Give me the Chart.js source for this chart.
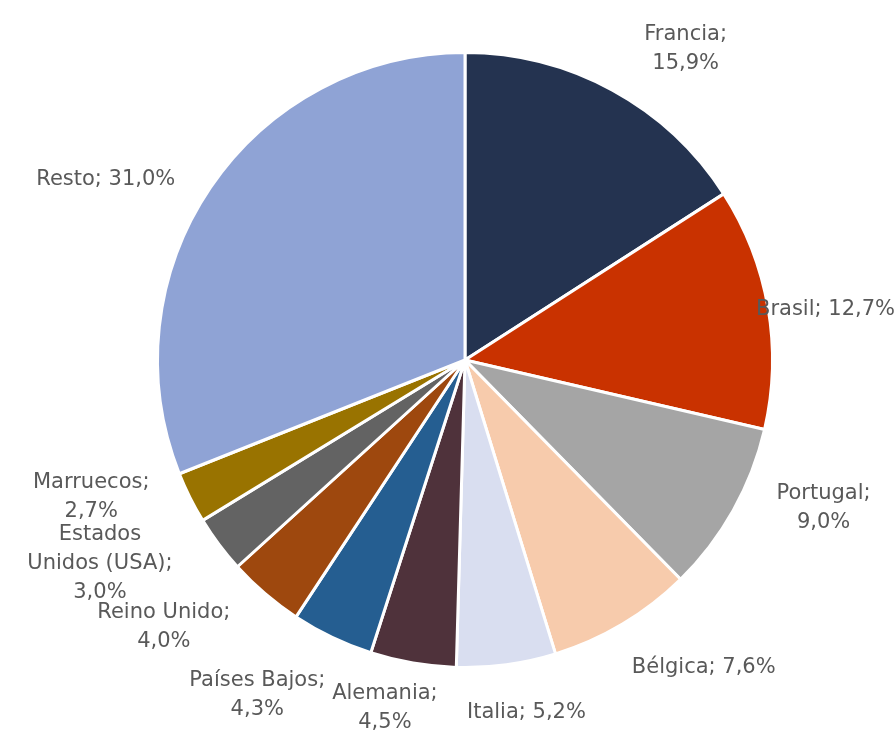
<!DOCTYPE html>
<html>
<head>
<meta charset="utf-8">
<script src="https://cdn.jsdelivr.net/npm/chart.js@4.4.1/dist/chart.umd.min.js"></script>
<style>
  html, body { margin: 0; padding: 0; background: #ffffff; }
  #wrap { position: relative; width: 896px; height: 738px; }
</style>
</head>
<body>
<div id="wrap"><canvas id="c"></canvas></div>
<script>
const categories = ["Francia", "Brasil", "Portugal", "Bélgica", "Italia", "Alemania", "Países Bajos", "Reino Unido", "Estados Unidos (USA)", "Marruecos", "Resto"];
const shares = [15.9, 12.7, 9.0, 7.6, 5.2, 4.5, 4.3, 4.0, 3.0, 2.7, 31.0];
const labelLines = [
  ["Francia;", "15,9%"],
  ["Brasil; 12,7%"],
  ["Portugal;", "9,0%"],
  ["Bélgica; 7,6%"],
  ["Italia; 5,2%"],
  ["Alemania;", "4,5%"],
  ["Países Bajos;", "4,3%"],
  ["Reino Unido;", "4,0%"],
  ["Estados", "Unidos (USA);", "3,0%"],
  ["Marruecos;", "2,7%"],
  ["Resto; 31,0%"]
];
const sliceColors = ["#243350", "#C93200", "#A5A5A5", "#F7CBAC", "#D9DEF0", "#4F323B", "#255E91", "#9E480E", "#636363", "#997300", "#8FA3D5"];

const FONT = '21px "DejaVu Sans", sans-serif';
const LINE_H = 29;
const GAP = 26;
const SPREAD = 8 * Math.PI / 180;   // labels drift toward the horizontal axis

const outsideLabels = {
  id: 'outsideLabels',
  afterDraw(chart) {
    const ctx = chart.ctx;
    const meta = chart.getDatasetMeta(0);
    ctx.save();
    ctx.font = FONT;
    ctx.fillStyle = '#595959';
    ctx.textAlign = 'center';
    ctx.textBaseline = 'middle';
    meta.data.forEach((arc, i) => {
      const p = arc.getProps(['startAngle', 'endAngle', 'x', 'y', 'outerRadius'], true);
      let mid = (p.startAngle + p.endAngle) / 2;
      mid = mid - SPREAD * Math.sin(2 * mid);
      const lines = labelLines[i];
      const w = Math.max(...lines.map(l => ctx.measureText(l).width));
      const h = lines.length * LINE_H;
      const c = Math.cos(mid), s = Math.sin(mid);
      const d = p.outerRadius + GAP + Math.abs(c) * w / 2 + Math.abs(s) * h / 2;
      let x = p.x + c * d;
      let y = p.y + s * d;
      x = Math.min(chart.width - w / 2 - 1, Math.max(w / 2 + 1, x));
      y = Math.min(chart.height - h / 2 - 1, Math.max(h / 2 + 1, y));
      lines.forEach((l, k) => {
        ctx.fillText(l, x, y - h / 2 + LINE_H / 2 + k * LINE_H);
      });
    });
    ctx.restore();
  }
};

new Chart(document.getElementById('c'), {
  type: 'pie',
  data: {
    labels: categories,
    datasets: [{
      data: shares,
      backgroundColor: sliceColors,
      borderColor: '#ffffff',
      borderWidth: 3
    }]
  },
  options: {
    responsive: true,
    maintainAspectRatio: false,
    animation: false,
    layout: { padding: { left: 156, right: 122, top: 51, bottom: 69 } },
    plugins: {
      legend: { display: false },
      tooltip: { enabled: false }
    }
  },
  plugins: [outsideLabels]
});
</script>
</body>
</html>
